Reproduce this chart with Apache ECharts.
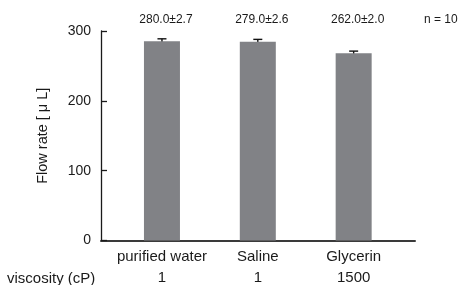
<!DOCTYPE html>
<html>
<head>
<meta charset="utf-8">
<script src="https://cdn.jsdelivr.net/npm/echarts@6/dist/echarts.min.js"></script>
<style>
html,body{margin:0;padding:0;background:#fff;}
#chart{width:461px;height:285px;}
</style>
</head>
<body>
<div id="chart"></div>
<script>
const categories = ['purified water', 'Saline', 'Glycerin'];
const viscosity = ['1', '1', '1500'];
const flowValues = [285.5, 284.5, 268];
const errorValues = [3.3, 3.5, 3.2];
const summaryLabels = ['280.0±2.7', '279.0±2.6', '262.0±2.0'];
const yTickValues = [0, 100, 200, 300];
const positions = categories.map((c, i) => i + 1);

const FONT = '"Liberation Sans", Arial, Helvetica, sans-serif';
const chart = echarts.init(document.getElementById('chart'), null, {renderer: 'canvas'});

const option = {
  animation: false,
  backgroundColor: '#fff',
  grid: {left: 101, right: 46, top: 31, bottom: 44.5, containLabel: false, outerBoundsMode: 'none'},
  xAxis: {
    type: 'value',
    min: 0.364,
    max: 3.64,
    splitLine: {show: false},
    axisTick: {show: false},
    axisLine: {show: true, lineStyle: {color: '#3a3a3a', width: 2}},
    axisLabel: {
      customValues: positions,
      margin: 6,
      fontFamily: FONT,
      fontSize: 15,
      color: '#1a1a1a',
      lineHeight: 21,
      formatter: function (v) {
        const i = Math.round(v) - 1;
        return categories[i] + '\n' + viscosity[i];
      }
    }
  },
  yAxis: {
    type: 'value',
    min: 0,
    max: 300,
    interval: 100,
    name: 'Flow rate [ μ L]',
    nameLocation: 'middle',
    nameGap: 51,
    nameTextStyle: {fontFamily: FONT, fontSize: 14.5, color: '#1a1a1a'},
    splitLine: {show: false},
    axisLine: {show: true, lineStyle: {color: '#1a1a1a', width: 1.3}},
    axisTick: {show: true, inside: true, length: 6, lineStyle: {color: '#1a1a1a', width: 1.3}},
    axisLabel: {
      customValues: yTickValues,
      margin: 10,
      fontFamily: FONT,
      fontSize: 14,
      color: '#1a1a1a'
    }
  },
  graphic: [
    {type: 'text', left: 7, top: 271, style: {text: 'viscosity (cP)', fontFamily: FONT, fontSize: 15, fill: '#1a1a1a'}},
    {type: 'text', left: 424, top: 14, style: {text: 'n = 10', fontFamily: FONT, fontSize: 12, fill: '#1a1a1a'}}
  ],
  series: [
    {
      type: 'bar',
      barWidth: 36,
      itemStyle: {color: '#818286'},
      data: positions.map((p, i) => [p, flowValues[i]])
    },
    {
      type: 'custom',
      clip: false,
      data: positions.map((p, i) => [p, flowValues[i], errorValues[i]]),
      renderItem: function (params, api) {
        const x = api.value(0), y = api.value(1), e = api.value(2);
        const top = api.coord([x, y + e]);
        const bot = api.coord([x, y - e]);
        const hw = 4.5;
        const st = {stroke: '#111', lineWidth: 1.4};
        return {
          type: 'group',
          children: [
            {type: 'line', shape: {x1: top[0], y1: top[1], x2: bot[0], y2: bot[1]}, style: st},
            {type: 'line', shape: {x1: top[0] - hw, y1: top[1], x2: top[0] + hw, y2: top[1]}, style: st},
            {type: 'line', shape: {x1: bot[0] - hw, y1: bot[1], x2: bot[0] + hw, y2: bot[1]}, style: st}
          ]
        };
      }
    },
    {
      type: 'custom',
      clip: false,
      data: positions.map((p, i) => [p, 300]),
      renderItem: function (params, api) {
        const pt = api.coord([api.value(0), api.value(1)]);
        return {
          type: 'text',
          x: pt[0] + 4,
          y: pt[1] - 11,
          style: {
            text: summaryLabels[params.dataIndex],
            fontFamily: FONT,
            fontSize: 12,
            fill: '#1a1a1a',
            align: 'center',
            verticalAlign: 'middle'
          }
        };
      }
    }
  ]
};
chart.setOption(option);
</script>
</body>
</html>
